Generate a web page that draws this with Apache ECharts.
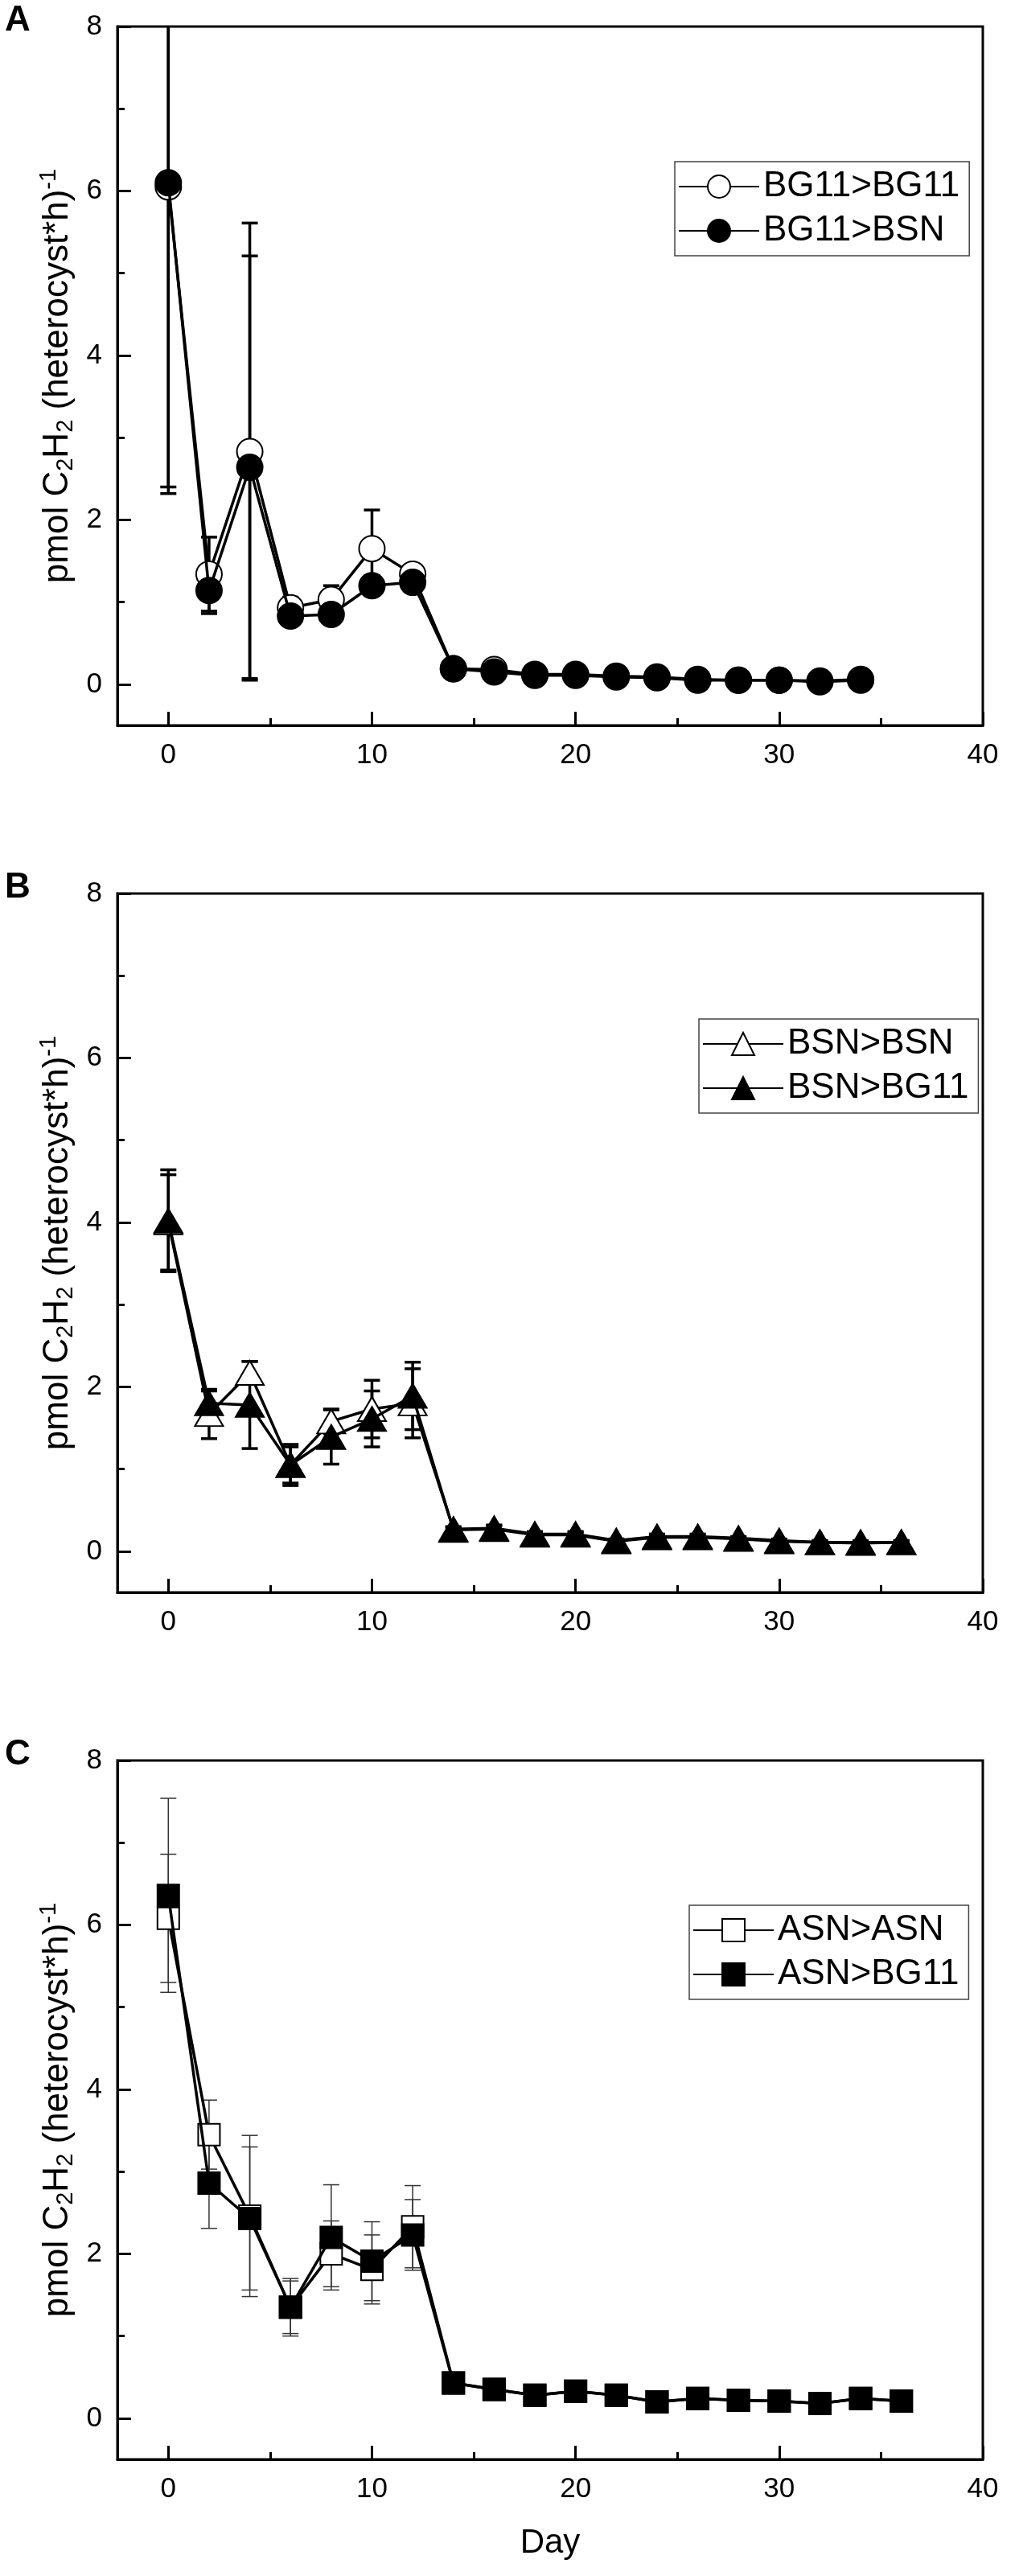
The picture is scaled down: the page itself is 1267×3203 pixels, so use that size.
<!DOCTYPE html>
<html>
<head>
<meta charset="utf-8">
<title>Nitrogenase activity per heterocyst</title>
<script src="https://cdn.jsdelivr.net/npm/echarts@6/dist/echarts.min.js"></script>
<style>
  html, body { margin: 0; padding: 0; background: #fff; }
  #main { width: 1267px; height: 3203px; }
</style>
</head>
<body>
<div id="main"></div>
<script>
// days sampled
var daysA = [0, 2, 4, 6, 8, 10, 12, 14, 16, 18, 20, 22, 24, 26, 28, 30, 32, 34];
var daysBC = [0, 2, 4, 6, 8, 10, 12, 14, 16, 18, 20, 22, 24, 26, 28, 30, 32, 34, 36];

// tick labels
var xTicks = [0, 10, 20, 30, 40];
var xMinorTicks = [5, 15, 25, 35];
var yTicks = [0, 2, 4, 6, 8];
var yMinorTicks = [1, 3, 5, 7];

// panel A
var bg11Bg11 = [6.05, 1.34, 2.83, 0.93, 1.03, 1.65, 1.34, 0.19, 0.18, 0.12, 0.12, 0.10, 0.09, 0.06, 0.05, 0.05, 0.04, 0.06];
var bg11Bg11Err = [3.65, 0.45, 2.78, 0.13, 0.17, 0.47, 0.12, 0.03, 0.04, 0.03, 0.03, 0.03, 0.03, 0.02, 0.02, 0.02, 0.02, 0.02];
var bg11Bsn = [6.10, 1.14, 2.64, 0.83, 0.85, 1.20, 1.24, 0.19, 0.15, 0.11, 0.11, 0.09, 0.08, 0.05, 0.05, 0.05, 0.03, 0.05];
var bg11BsnErr = [3.78, 0.28, 2.57, 0.08, 0.08, 0.12, 0.10, 0.03, 0.03, 0.03, 0.03, 0.02, 0.02, 0.02, 0.02, 0.02, 0.02, 0.02];

// panel B
var bsnBsn = [4.00, 1.67, 2.17, 1.05, 1.58, 1.73, 1.80, 0.27, 0.28, 0.21, 0.21, 0.13, 0.18, 0.18, 0.16, 0.13, 0.11, 0.11, 0.11];
var bsnBsnErr = [0.58, 0.30, 0.14, 0.25, 0.15, 0.35, 0.42, 0.03, 0.04, 0.03, 0.03, 0.02, 0.03, 0.03, 0.02, 0.02, 0.02, 0.02, 0.02];
var bsnBg11 = [4.02, 1.80, 1.78, 1.05, 1.39, 1.61, 1.89, 0.26, 0.27, 0.20, 0.20, 0.12, 0.17, 0.17, 0.15, 0.12, 0.11, 0.10, 0.11];
var bsnBg11Err = [0.62, 0.15, 0.53, 0.22, 0.33, 0.34, 0.41, 0.03, 0.04, 0.03, 0.03, 0.02, 0.03, 0.03, 0.02, 0.02, 0.02, 0.02, 0.02];

// panel C
var asnAsn = [6.08, 3.45, 2.46, 1.35, 2.00, 1.81, 2.33, 0.43, 0.35, 0.28, 0.33, 0.28, 0.20, 0.24, 0.22, 0.21, 0.18, 0.24, 0.21];
var asnAsnErr = [0.78, 0.42, 0.98, 0.32, 0.40, 0.42, 0.50, 0.03, 0.03, 0.03, 0.03, 0.03, 0.02, 0.03, 0.02, 0.02, 0.02, 0.02, 0.02];
var asnBg11 = [6.36, 2.86, 2.43, 1.35, 2.20, 1.91, 2.23, 0.43, 0.35, 0.28, 0.33, 0.28, 0.20, 0.24, 0.22, 0.21, 0.18, 0.24, 0.21];
var asnBg11Err = [1.18, 0.55, 0.87, 0.35, 0.64, 0.48, 0.43, 0.03, 0.03, 0.03, 0.03, 0.03, 0.02, 0.03, 0.02, 0.02, 0.02, 0.02, 0.02];

var FONT = '"Liberation Sans", Arial, sans-serif';
var X_MIN = -2.5, X_MAX = 40;
var Y_MIN = -0.5, Y_MAX = 8;

var panels = [
  { letter: 'A', days: daysA, names: ['BG11>BG11', 'BG11>BSN'], values: [bg11Bg11, bg11Bsn], errs: [bg11Bg11Err, bg11BsnErr],
    symbol: 'circle', size: 32, errWidth: 3.5, errColor: '#000', top: 33, legendLeft: 839, legendTop: 201 },
  { letter: 'B', days: daysBC, names: ['BSN>BSN', 'BSN>BG11'], values: [bsnBsn, bsnBg11], errs: [bsnBsnErr, bsnBg11Err],
    symbol: 'triangle', size: [35, 30], errWidth: 3.5, errColor: '#000', top: 1111, legendLeft: 869, legendTop: 1267 },
  { letter: 'C', days: daysBC, names: ['ASN>ASN', 'ASN>BG11'], values: [asnAsn, asnBg11], errs: [asnAsnErr, asnBg11Err],
    symbol: 'rect', size: 27, errWidth: 1.5, errColor: '#333', top: 2189, legendLeft: 857, legendTop: 2369 }
];

function zip(xs, ys, es) {
  return xs.map(function (x, i) {
    return es ? [x, ys[i], es[i]] : [x, ys[i]];
  });
}

function errRenderer(lineWidth, color) {
  return function (params, api) {
    var x = api.value(0), y = api.value(1), e = api.value(2);
    var hi = Math.min(y + e, Y_MAX), lo = Math.max(y - e, Y_MIN);
    var pHi = api.coord([x, hi]);
    var pLo = api.coord([x, lo]);
    var style = { stroke: color, lineWidth: lineWidth };
    var half = 10;
    var kids = [{ type: 'line', shape: { x1: pHi[0], y1: pHi[1], x2: pLo[0], y2: pLo[1] }, style: style }];
    if (y + e <= Y_MAX) {
      kids.push({ type: 'line', shape: { x1: pHi[0] - half, y1: pHi[1], x2: pHi[0] + half, y2: pHi[1] }, style: style });
    }
    if (y - e >= Y_MIN) {
      kids.push({ type: 'line', shape: { x1: pLo[0] - half, y1: pLo[1], x2: pLo[0] + half, y2: pLo[1] }, style: style });
    }
    return { type: 'group', children: kids };
  };
}

var grid = [], xAxis = [], yAxis = [], legend = [], title = [], series = [];

panels.forEach(function (p, i) {
  grid.push({
    left: 146, width: 1076, top: p.top, height: 869,
    show: true, borderColor: '#000', borderWidth: 3, backgroundColor: 'transparent'
  });
  title.push({
    text: p.letter, left: 6, top: p.top - 29, padding: 0,
    textStyle: { fontFamily: FONT, fontSize: 44, fontWeight: 'bold', color: '#000' }
  });

  // main x axis
  xAxis.push({
    type: 'value', gridIndex: i, position: 'bottom', min: X_MIN, max: X_MAX,
    name: i === 2 ? 'Day' : '', nameLocation: 'middle', nameGap: 83,
    nameTextStyle: { fontFamily: FONT, fontSize: 42, color: '#000' },
    axisLine: { onZero: false, lineStyle: { color: '#000', width: 3 } },
    axisTick: { inside: true, length: 17, customValues: xTicks, lineStyle: { color: '#000', width: 3 } },
    axisLabel: { customValues: xTicks, margin: 20, fontFamily: FONT, fontSize: 35, color: '#000' },
    splitLine: { show: false }
  });
  // minor x ticks
  xAxis.push({
    type: 'value', gridIndex: i, position: 'bottom', min: X_MIN, max: X_MAX,
    axisLine: { show: false, onZero: false },
    axisTick: { inside: true, length: 9, customValues: xMinorTicks, lineStyle: { color: '#000', width: 3 } },
    axisLabel: { show: false },
    splitLine: { show: false }
  });

  yAxis.push({
    type: 'value', gridIndex: i, position: 'left', min: Y_MIN, max: Y_MAX,
    name: '{n|pmol C}{s|2}{n|H}{s|2}{n| (heterocyst*h)}{p|-1}',
    nameLocation: 'middle', nameGap: 41,
    nameTextStyle: {
      color: '#000',
      rich: {
        n: { fontFamily: FONT, fontSize: 44, lineHeight: 50, color: '#000' },
        s: { fontFamily: FONT, fontSize: 29, lineHeight: 29, verticalAlign: 'bottom', color: '#000' },
        p: { fontFamily: FONT, fontSize: 29, lineHeight: 29, verticalAlign: 'top', color: '#000' }
      }
    },
    axisLine: { onZero: false, lineStyle: { color: '#000', width: 3 } },
    axisTick: { inside: true, length: 17, customValues: yTicks, lineStyle: { color: '#000', width: 3 } },
    axisLabel: { customValues: yTicks, margin: 19, fontFamily: FONT, fontSize: 35, color: '#000' },
    splitLine: { show: false }
  });
  yAxis.push({
    type: 'value', gridIndex: i, position: 'left', min: Y_MIN, max: Y_MAX,
    axisLine: { show: false, onZero: false },
    axisTick: { inside: true, length: 9, customValues: yMinorTicks, lineStyle: { color: '#000', width: 3 } },
    axisLabel: { show: false },
    splitLine: { show: false }
  });

  legend.push({
    data: p.names, orient: 'vertical', left: p.legendLeft, top: p.legendTop,
    itemWidth: 100, itemHeight: 35, itemGap: 11, selectedMode: false,
    padding: [9, 12, 9, 4], borderColor: '#444', borderWidth: 1.5, backgroundColor: '#fff',
    textStyle: { fontFamily: FONT, fontSize: 44, lineHeight: 44, color: '#000' }
  });

  [0, 1].forEach(function (k) {
    series.push({
      type: 'custom', name: p.names[k] + ' err',
      xAxisIndex: 2 * i, yAxisIndex: 2 * i,
      renderItem: errRenderer(p.errWidth, p.errColor),
      encode: { x: 0, y: 1 },
      data: zip(p.days, p.values[k], p.errs[k]),
      z: 1, silent: true
    });
  });
  [0, 1].forEach(function (k) {
    series.push({
      type: 'line', name: p.names[k],
      xAxisIndex: 2 * i, yAxisIndex: 2 * i,
      data: zip(p.days, p.values[k]),
      symbol: p.symbol, symbolSize: p.size, showAllSymbol: true,
      lineStyle: { color: '#000', width: 3.5 },
      itemStyle: { color: k === 0 ? '#fff' : '#000', borderColor: '#000', borderWidth: 2, opacity: 1 },
      z: 2 + k
    });
  });
});

var chart = echarts.init(document.getElementById('main'), null, { renderer: 'canvas' });
var option = {
  animation: false,
  backgroundColor: '#fff',
  textStyle: { fontFamily: FONT },
  title: title,
  grid: grid,
  xAxis: xAxis,
  yAxis: yAxis,
  legend: legend,
  series: series
};
chart.setOption(option);
</script>
</body>
</html>
